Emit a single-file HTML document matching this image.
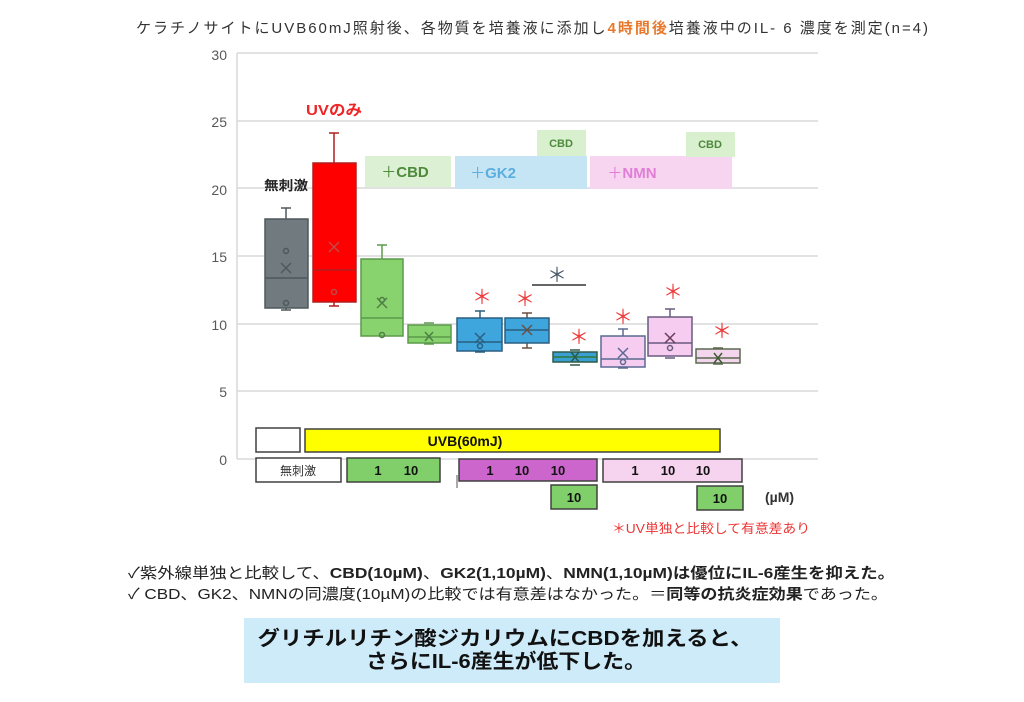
<!DOCTYPE html>
<html><head><meta charset="utf-8">
<style>
html,body{margin:0;padding:0;background:#fff;}
svg{display:block;}
text{font-family:"Liberation Sans","Noto Sans CJK JP",sans-serif;}
</style></head>
<body>
<svg width="1024" height="702" viewBox="0 0 1024 702" xmlns="http://www.w3.org/2000/svg">
<rect width="1024" height="702" fill="#fff"/>

<!-- Title -->
<text x="136" y="33" font-size="15" fill="#333" textLength="792" lengthAdjust="spacing">ケラチノサイトにUVB60mJ照射後、各物質を培養液に添加し<tspan fill="#e8792c" font-weight="bold">4時間後</tspan>培養液中のIL- 6 濃度を測定(n=4)</text>

<!-- gridlines -->
<g stroke="#d9d9d9" stroke-width="1.5">
<line x1="237" y1="53" x2="818" y2="53"/>
<line x1="237" y1="121" x2="818" y2="121"/>
<line x1="237" y1="188" x2="818" y2="188"/>
<line x1="237" y1="256" x2="818" y2="256"/>
<line x1="237" y1="324" x2="818" y2="324"/>
<line x1="237" y1="391" x2="818" y2="391"/>
<line x1="237" y1="459" x2="818" y2="459"/>
<line x1="237" y1="53" x2="237" y2="459"/>
</g>
<g font-size="14" fill="#595959" text-anchor="end">
<text x="227" y="60">30</text>
<text x="227" y="127">25</text>
<text x="227" y="195">20</text>
<text x="227" y="262">15</text>
<text x="227" y="330">10</text>
<text x="227" y="397">5</text>
<text x="227" y="465">0</text>
</g>

<!-- group labels -->
<text x="286" y="190" font-size="13" font-weight="bold" fill="#222" text-anchor="middle" textLength="44" lengthAdjust="spacingAndGlyphs">無刺激</text>
<text x="334" y="115" font-size="15" font-weight="bold" fill="#ee2626" text-anchor="middle" textLength="56" lengthAdjust="spacingAndGlyphs">UVのみ</text>

<rect x="365" y="156" width="86" height="31" fill="#dcf0d3"/>
<text x="405" y="177" font-size="15" font-weight="bold" fill="#4e8a3c" text-anchor="middle"><tspan font-weight="normal">＋</tspan>CBD</text>
<rect x="455" y="156" width="132" height="33" fill="#c6e5f4"/>
<text x="493" y="178" font-size="15" font-weight="bold" fill="#5aaee0" text-anchor="middle"><tspan font-weight="normal">＋</tspan>GK2</text>
<rect x="537" y="130" width="49" height="26" fill="#d9f0cf"/>
<text x="561" y="147" font-size="11" font-weight="bold" fill="#4e8a3c" text-anchor="middle">CBD</text>
<rect x="590" y="156" width="142" height="33" fill="#f7d5f1"/>
<text x="632" y="178" font-size="15" font-weight="bold" fill="#e07ed6" text-anchor="middle"><tspan font-weight="normal">＋</tspan>NMN</text>
<rect x="686" y="132" width="49" height="25" fill="#d9f0cf"/>
<text x="710" y="148" font-size="11" font-weight="bold" fill="#4e8a3c" text-anchor="middle">CBD</text>

<!-- boxes -->
<g stroke-width="1.5">
<!-- 1 gray -->
<g stroke="#4e595e">
<line x1="286" y1="208" x2="286" y2="219"/><line x1="281" y1="208" x2="291" y2="208"/>
<line x1="286" y1="308" x2="286" y2="310"/><line x1="281" y1="310" x2="291" y2="310"/>
<rect x="265" y="219" width="43" height="89" fill="#717a7e"/>
<line x1="265" y1="278" x2="308" y2="278"/>
<path d="M281 263 L291 273 M291 263 L281 273" fill="none"/>
<circle cx="286" cy="251" r="2.5" fill="none"/><circle cx="286" cy="303" r="2.5" fill="none"/>
</g>
<!-- 2 red -->
<g stroke="#b02020">
<line x1="334" y1="133" x2="334" y2="163"/><line x1="329" y1="133" x2="339" y2="133"/>
<line x1="334" y1="302" x2="334" y2="306"/><line x1="329" y1="306" x2="339" y2="306"/>
<rect x="313" y="163" width="43" height="139" fill="#ff0000"/>
<line x1="313" y1="270" x2="356" y2="270"/>
<path d="M329 242 L339 252 M339 242 L329 252" fill="none" stroke="#c04848"/>
<circle cx="334" cy="292" r="2.5" fill="none" stroke="#c04848"/>
</g>
<!-- 3 green -->
<g stroke="#5a9a4a">
<line x1="382" y1="245" x2="382" y2="259"/><line x1="377" y1="245" x2="387" y2="245"/>
<rect x="361" y="259" width="42" height="77" fill="#88d36e"/>
<line x1="361" y1="318" x2="403" y2="318"/>
<path d="M377 298 L387 308 M387 298 L377 308" fill="none" stroke="#4f7f44"/>
<circle cx="382" cy="300" r="2.5" fill="none" stroke="#4f7f44"/><circle cx="382" cy="335" r="2.5" fill="none" stroke="#4f7f44"/>
</g>
<!-- 4 green -->
<g stroke="#5a9a4a">
<line x1="424" y1="323" x2="434" y2="323"/>
<line x1="424" y1="344" x2="434" y2="344"/>
<rect x="408" y="325" width="43" height="18" fill="#88d36e"/>
<line x1="408" y1="337" x2="451" y2="337"/>
<path d="M425 332 L433 341 M433 332 L425 341" fill="none" stroke="#4f7f44"/>
</g>
<!-- 5 blue -->
<g stroke="#2b5f80">
<line x1="480" y1="311" x2="480" y2="318"/><line x1="475" y1="311" x2="485" y2="311"/>
<line x1="475" y1="352" x2="485" y2="352"/>
<rect x="457" y="318" width="45" height="33" fill="#3fa6dd"/>
<line x1="457" y1="342" x2="502" y2="342"/>
<path d="M475 333 L485 343 M485 333 L475 343" fill="none"/>
<circle cx="480" cy="346" r="2.5" fill="none"/>
</g>
<!-- 6 blue -->
<g stroke="#6a5040">
<line x1="527" y1="313" x2="527" y2="318"/><line x1="522" y1="313" x2="532" y2="313"/>
<line x1="527" y1="343" x2="527" y2="348"/><line x1="522" y1="348" x2="532" y2="348"/>
<rect x="505" y="318" width="44" height="25" fill="#3fa6dd" stroke="#2b5f80"/>
<line x1="505" y1="330" x2="549" y2="330" stroke="#2b5f80"/>
<path d="M522 325 L532 335 M532 325 L522 335" fill="none"/>
</g>
<!-- 7 teal -->
<g stroke="#2e5a4a">
<line x1="570" y1="350" x2="580" y2="350"/>
<line x1="570" y1="365" x2="580" y2="365"/>
<rect x="553" y="352" width="44" height="10" fill="#3a9fd3"/>
<line x1="553" y1="357" x2="597" y2="357" stroke="#2e7a3a"/>
<path d="M571 352 L579 362 M579 352 L571 362" fill="none"/>
</g>
<!-- 8 pink -->
<g stroke="#5a6a90">
<line x1="623" y1="329" x2="623" y2="336"/><line x1="618" y1="329" x2="628" y2="329"/>
<line x1="618" y1="368" x2="628" y2="368"/>
<rect x="601" y="336" width="44" height="31" fill="#f6cdf0"/>
<line x1="601" y1="359" x2="645" y2="359"/>
<path d="M618 348 L628 358 M628 348 L618 358" fill="none"/>
<circle cx="623" cy="362" r="2.5" fill="none"/>
</g>
<!-- 9 pink -->
<g stroke="#6a5a80">
<line x1="670" y1="309" x2="670" y2="317"/><line x1="665" y1="309" x2="675" y2="309"/>
<line x1="665" y1="358" x2="675" y2="358"/>
<rect x="648" y="317" width="44" height="39" fill="#f6cdf0"/>
<line x1="648" y1="343" x2="692" y2="343"/>
<path d="M665 333 L675 343 M675 333 L665 343" fill="none" stroke="#6a3a5a"/>
<circle cx="670" cy="348" r="2.5" fill="none"/>
</g>
<!-- 10 pale -->
<g stroke="#5a6a50">
<line x1="713" y1="348" x2="723" y2="348"/>
<line x1="713" y1="364" x2="723" y2="364"/>
<rect x="696" y="349" width="44" height="14" fill="#f3d6ee"/>
<line x1="696" y1="358" x2="740" y2="358"/>
<path d="M714 353 L722 363 M722 353 L714 363" fill="none" stroke="#3e5a30"/>
</g>
</g>

<!-- significance -->
<g font-family="Noto Sans CJK JP" font-size="20" fill="#ee3a3a" text-anchor="middle" dominant-baseline="central">
<text x="482" y="298">＊</text>
<text x="525" y="300">＊</text>
<text x="579" y="338">＊</text>
<text x="623" y="318">＊</text>
<text x="673" y="293">＊</text>
<text x="722" y="332">＊</text>
<text x="557" y="276" fill="#4a5a6a">＊</text>
</g>
<line x1="532" y1="285" x2="586" y2="285" stroke="#333" stroke-width="1.5"/>

<!-- bottom legend -->
<g stroke="#404040" stroke-width="1.5">
<rect x="256" y="428" width="44" height="24" fill="#fff"/>
<rect x="305" y="429" width="415" height="23" fill="#ffff00"/>
<rect x="256" y="458" width="85" height="24" fill="#fff"/>
<rect x="347" y="458" width="93" height="24" fill="#80cf6a"/>
<rect x="459" y="459" width="138" height="22" fill="#cc66cc"/>
<rect x="603" y="459" width="139" height="23" fill="#f6d3ef"/>
<rect x="551" y="485" width="46" height="24" fill="#80cf6a"/>
<rect x="697" y="486" width="46" height="24" fill="#80cf6a"/>
</g>
<line x1="457" y1="475" x2="457" y2="488" stroke="#555" stroke-width="1"/>
<g font-size="13" font-weight="bold" fill="#111">
<text x="465" y="446" font-size="14" text-anchor="middle">UVB(60mJ)</text>
<text x="298" y="475" font-weight="normal" font-size="12" fill="#333" text-anchor="middle">無刺激</text>
<text x="378" y="475" text-anchor="middle">1</text>
<text x="411" y="475" text-anchor="middle">10</text>
<text x="490" y="475" text-anchor="middle">1</text>
<text x="522" y="475" text-anchor="middle">10</text>
<text x="558" y="475" text-anchor="middle">10</text>
<text x="635" y="475" text-anchor="middle">1</text>
<text x="668" y="475" text-anchor="middle">10</text>
<text x="703" y="475" text-anchor="middle">10</text>
<text x="574" y="502" text-anchor="middle">10</text>
<text x="720" y="503" text-anchor="middle">10</text>
</g>
<text x="765" y="502" font-size="14" font-weight="bold" fill="#333">(µM)</text>
<text x="612" y="533" font-size="13" fill="#ee3333" textLength="198" lengthAdjust="spacingAndGlyphs">＊UV単独と比較して有意差あり</text>

<!-- notes -->
<text x="128" y="578" font-size="15" fill="#222" textLength="767" lengthAdjust="spacingAndGlyphs">✓紫外線単独と比較して、<tspan font-weight="bold">CBD(10µM)</tspan>、<tspan font-weight="bold">GK2(1,10µM)</tspan>、<tspan font-weight="bold">NMN(1,10µM)は優位にIL-6産生を抑えた。</tspan></text>
<text x="128" y="599" font-size="15" fill="#222" textLength="760" lengthAdjust="spacingAndGlyphs">✓ CBD、GK2、NMNの同濃度(10µM)の比較では有意差はなかった。＝<tspan font-weight="bold">同等の抗炎症効果</tspan>であった。</text>

<!-- conclusion box -->
<rect x="244" y="618" width="536" height="65" fill="#cdebf9"/>
<text x="505" y="645" font-size="20" font-weight="bold" fill="#111" text-anchor="middle" textLength="495" lengthAdjust="spacingAndGlyphs">グリチルリチン酸ジカリウムにCBDを加えると、</text>
<text x="506" y="668" font-size="20" font-weight="bold" fill="#111" text-anchor="middle" textLength="280" lengthAdjust="spacingAndGlyphs">さらにIL-6産生が低下した。</text>
</svg>
</body></html>
